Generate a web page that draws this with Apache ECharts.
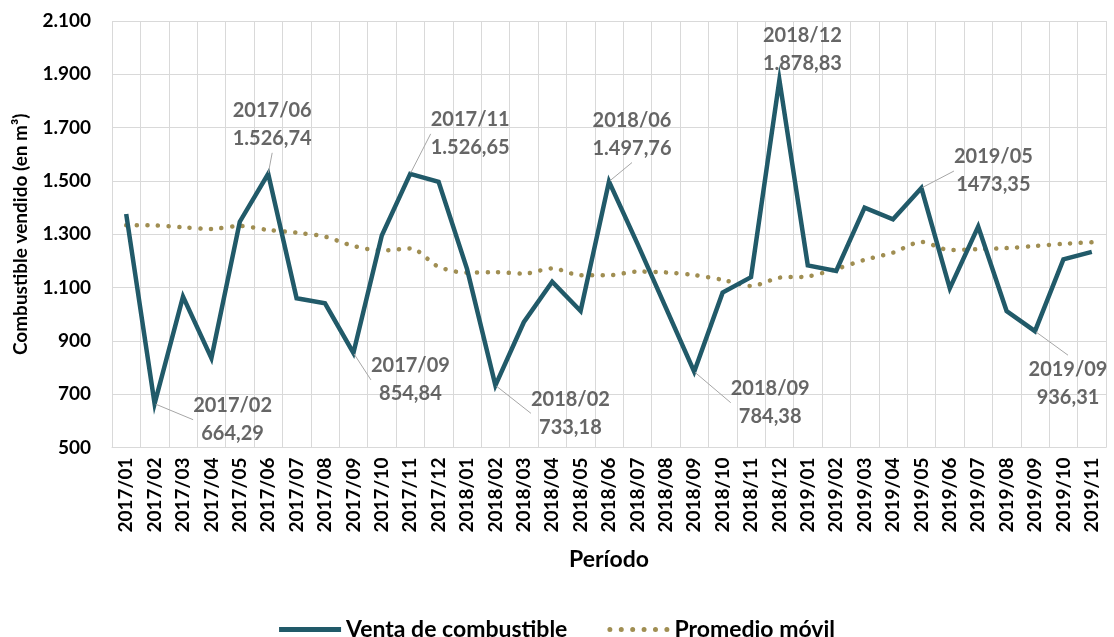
<!DOCTYPE html>
<html>
<head>
<meta charset="utf-8">
<script src="https://cdn.jsdelivr.net/npm/echarts@6/dist/echarts.min.js"></script>
<style>
    html, body { margin: 0; padding: 0; background: #fff; }
    #grafico { width: 1114px; height: 637px; }
</style>
</head>
<body>
<div id="grafico"></div>
<script>
    // datos
    const categorias = [
        '2017/01','2017/02','2017/03','2017/04','2017/05','2017/06','2017/07','2017/08','2017/09','2017/10','2017/11','2017/12',
        '2018/01','2018/02','2018/03','2018/04','2018/05','2018/06','2018/07','2018/08','2018/09','2018/10','2018/11','2018/12',
        '2019/01','2019/02','2019/03','2019/04','2019/05','2019/06','2019/07','2019/08','2019/09','2019/10','2019/11'
    ];
    const ventas = [
        1376, 664.29, 1066, 835, 1347, 1526.74, 1060, 1041, 854.84, 1295, 1526.65, 1497,
        1170, 733.18, 970, 1122, 1012, 1497.76, 1265, 1025, 784.38, 1081, 1139, 1878.83,
        1183, 1162, 1400, 1356, 1473.35, 1097, 1329, 1012, 936.31, 1206, 1234
    ];
    const promedio = [
        1334, 1333, 1326, 1320, 1331, 1316, 1306, 1291, 1256, 1239, 1247, 1178,
        1156, 1158, 1152, 1172, 1146, 1146, 1160, 1157, 1147, 1129, 1106, 1137,
        1142, 1170, 1204, 1231, 1271, 1241, 1244, 1248, 1256, 1264, 1270
    ];
    // puntos anotados y su texto
    const anotados = [1, 5, 8, 10, 13, 17, 20, 23, 28, 32];
    const valoresTexto = ['664,29','1.526,74','854,84','1.526,65','733,18','1.497,76','784,38','1.878,83','1473,35','936,31'];
    const yTicks = { min: 500, max: 2100, interval: 200 };

    const TEAL = '#215A69';
    const OLIVA = '#A08E52';
    const GRILLA = '#D9D9D9';
    const FUENTE = 'Lato';

    // desplazamiento de cada etiqueta respecto de su punto
    const desplaz = [[78,16],[4,-49],[57,27],[60,-40],[75,28],[23,-47],[76,31],[23,-30],[72,-17],[33,52]];

    const miles = v => String(v).replace(/\B(?=(\d{3})+(?!\d))/g, '.');

    // icono punteado para la leyenda
    let puntos = '';
    for (let k = 0; k < 6; k++) {
        const cx = 2.5 + k * 11.4;
        puntos += 'M' + (cx - 2.5) + ',2.5 a2.5,2.5 0 1,0 5,0 a2.5,2.5 0 1,0 -5,0 ';
    }

    const puntosAnotados = anotados.map((idx, i) => ({
        value: [idx, ventas[idx]],
        label: { formatter: categorias[idx] + '\n' + valoresTexto[i] },
        labelLine: { show: idx !== 23 }
    }));

    const chart = echarts.init(document.getElementById('grafico'));
    const option = {
        animation: false,
        textStyle: { fontFamily: FUENTE },
        grid: { left: 112, right: 8, top: 21, bottom: 189.5, outerBoundsMode: 'none', containLabel: false },
        legend: {
            data: [
                { name: 'Venta de combustible', icon: 'rect' },
                { name: 'Promedio móvil', icon: 'path://' + puntos }
            ],
            left: 'center',
            top: 613,
            itemWidth: 62,
            itemHeight: 5,
            itemGap: 40,
            textStyle: { fontFamily: FUENTE, fontSize: 23, fontWeight: 'bold', color: '#000' }
        },
        xAxis: {
            type: 'category',
            data: categorias,
            name: 'Período',
            nameLocation: 'middle',
            nameGap: 101,
            nameTextStyle: { fontFamily: FUENTE, fontSize: 23, fontWeight: 'bold', color: '#000' },
            axisLine: { show: true, lineStyle: { color: GRILLA, width: 1 } },
            axisTick: { show: false },
            axisLabel: {
                interval: 0,
                rotate: 90,
                margin: 10,
                fontFamily: FUENTE,
                fontSize: 19,
                fontWeight: 'bold',
                color: '#000'
            },
            splitLine: { show: true, interval: 0, lineStyle: { color: GRILLA, width: 1 } }
        },
        yAxis: {
            type: 'value',
            min: yTicks.min,
            max: yTicks.max,
            interval: yTicks.interval,
            name: 'Combustible vendido (en m³)',
            nameLocation: 'middle',
            nameGap: 82,
            nameTextStyle: { fontFamily: FUENTE, fontSize: 19, fontWeight: 'bold', color: '#000' },
            axisLine: { show: false },
            axisTick: { show: false },
            axisLabel: {
                margin: 21,
                fontFamily: FUENTE,
                fontSize: 19,
                fontWeight: 'bold',
                color: '#000',
                formatter: v => miles(v)
            },
            splitLine: { show: true, lineStyle: { color: GRILLA, width: 1 } }
        },
        series: [
            {
                name: 'Venta de combustible',
                type: 'line',
                data: ventas,
                symbol: 'none',
                color: TEAL,
                lineStyle: { color: TEAL, width: 4.5, join: 'miter' },
                z: 3
            },
            {
                name: 'Promedio móvil',
                type: 'line',
                data: promedio,
                symbol: 'none',
                smooth: 0.3,
                color: OLIVA,
                lineStyle: { color: OLIVA, width: 4.5, type: [0.1, 10.5], cap: 'round' },
                z: 2
            },
            {
                name: 'anotaciones',
                type: 'scatter',
                data: puntosAnotados,
                symbolSize: 2,
                itemStyle: { color: TEAL },
                z: 4,
                label: {
                    show: true,
                    position: 'inside',
                    align: 'center',
                    verticalAlign: 'middle',
                    fontFamily: FUENTE,
                    fontSize: 20,
                    fontWeight: 'bold',
                    lineHeight: 28,
                    color: '#404040'
                },
                labelLine: { show: true, lineStyle: { color: '#A6A6A6', width: 1 } },
                labelLayout: function (p) {
                    const d = desplaz[p.dataIndex];
                    return { dx: d[0], dy: d[1] };
                }
            }
        ]
    };
    chart.setOption(option);
</script>
</body>
</html>
